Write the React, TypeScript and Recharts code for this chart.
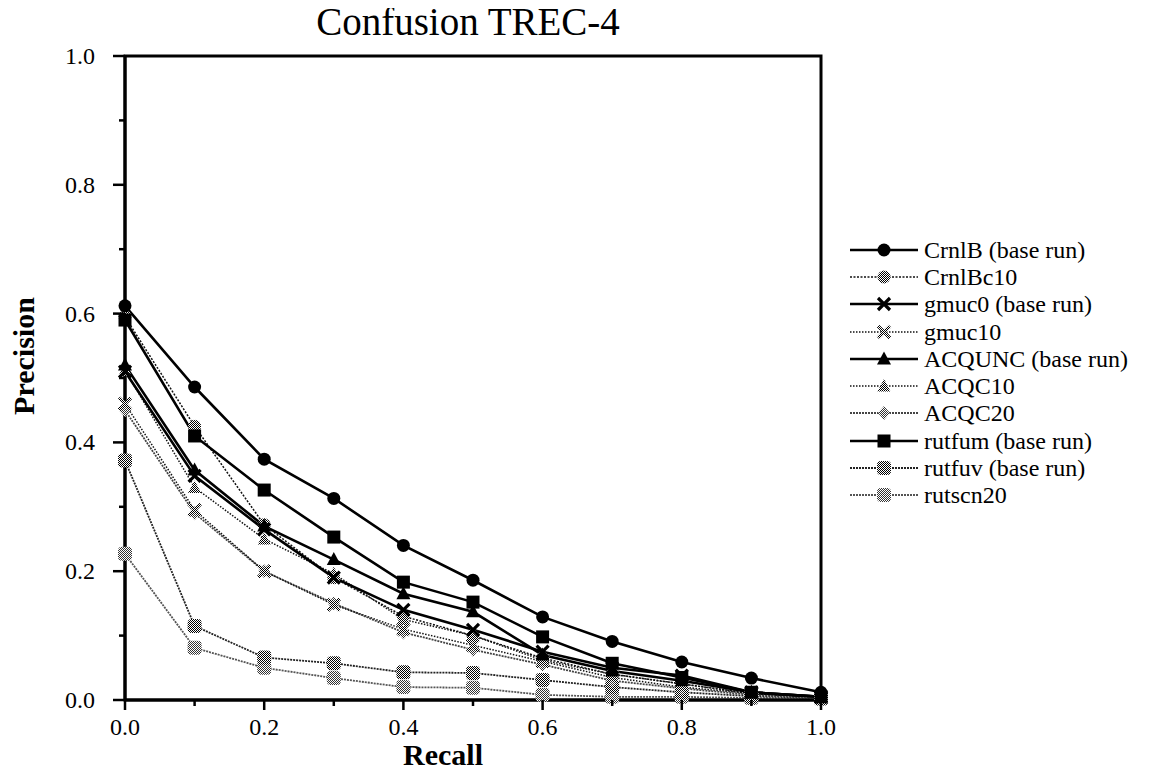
import React from "react";
import { LineChart, Line, XAxis, YAxis, ReferenceArea } from "recharts";

// recall levels (x) and interpolated precision per run (y)
const recall = [0.0, 0.1, 0.2, 0.3, 0.4, 0.5, 0.6, 0.7, 0.8, 0.9, 1.0];

const crnlB = [0.612, 0.486, 0.374, 0.313, 0.24, 0.186, 0.129, 0.091, 0.059, 0.034, 0.012];
const crnlBc10 = [0.595, 0.425, 0.272, 0.19, 0.13, 0.1, 0.065, 0.04, 0.025, 0.01, 0.005];
const gmuc0 = [0.51, 0.348, 0.265, 0.19, 0.14, 0.109, 0.075, 0.05, 0.038, 0.012, 0.005];
const gmuc10 = [0.46, 0.295, 0.2, 0.148, 0.11, 0.085, 0.06, 0.035, 0.02, 0.01, 0.004];
const acqunc = [0.52, 0.357, 0.27, 0.218, 0.165, 0.137, 0.07, 0.045, 0.03, 0.012, 0.005];
const acqc10 = [0.512, 0.33, 0.25, 0.196, 0.125, 0.1, 0.062, 0.04, 0.025, 0.01, 0.005];
const acqc20 = [0.45, 0.29, 0.2, 0.15, 0.105, 0.078, 0.055, 0.03, 0.018, 0.008, 0.003];
const rutfum = [0.59, 0.41, 0.326, 0.253, 0.183, 0.152, 0.098, 0.057, 0.035, 0.012, 0.005];
const rutfuv = [0.372, 0.115, 0.066, 0.057, 0.043, 0.042, 0.031, 0.02, 0.012, 0.006, 0.003];
const rutscn20 = [0.227, 0.081, 0.05, 0.034, 0.02, 0.019, 0.008, 0.005, 0.005, 0.003, 0.002];

const xTicks = [0, 0.1, 0.2, 0.3, 0.4, 0.5, 0.6, 0.7, 0.8, 0.9, 1.0];
const yTicks = [0, 0.1, 0.2, 0.3, 0.4, 0.5, 0.6, 0.7, 0.8, 0.9, 1.0];

const FONT = "'Liberation Serif', 'DejaVu Serif', serif";

type MarkerKind =
  | "circle"
  | "square"
  | "triangle"
  | "x"
  | "xChk"
  | "circleChk"
  | "triChk"
  | "diaChk"
  | "blobDark"
  | "blobLight";

interface Run {
  key: string;
  name: string;
  values: number[];
  stroke: string;
  width: number;
  dash?: string;
  marker: MarkerKind;
}

const runs: Run[] = [
  { key: "crnlB", name: "CrnlB (base run)", values: crnlB, stroke: "#000", width: 2.6, marker: "circle" },
  { key: "crnlBc10", name: "CrnlBc10", values: crnlBc10, stroke: "#111", width: 1.5, dash: "2 1.5", marker: "circleChk" },
  { key: "gmuc0", name: "gmuc0 (base run)", values: gmuc0, stroke: "#000", width: 2.6, marker: "x" },
  { key: "gmuc10", name: "gmuc10", values: gmuc10, stroke: "#111", width: 1.5, dash: "1.5 1.5", marker: "xChk" },
  { key: "acqunc", name: "ACQUNC (base run)", values: acqunc, stroke: "#000", width: 2.6, marker: "triangle" },
  { key: "acqc10", name: "ACQC10", values: acqc10, stroke: "#111", width: 1.5, dash: "1.5 1.5", marker: "triChk" },
  { key: "acqc20", name: "ACQC20", values: acqc20, stroke: "#444", width: 1.8, dash: "2 1", marker: "diaChk" },
  { key: "rutfum", name: "rutfum (base run)", values: rutfum, stroke: "#000", width: 2.6, marker: "square" },
  { key: "rutfuv", name: "rutfuv (base run)", values: rutfuv, stroke: "#222", width: 1.8, dash: "2 1", marker: "blobDark" },
  { key: "rutscn20", name: "rutscn20", values: rutscn20, stroke: "#555", width: 1.8, dash: "2 1", marker: "blobLight" },
];

// base runs drawn last so they sit on top
const drawOrder = ["rutscn20", "rutfuv", "acqc20", "acqc10", "gmuc10", "crnlBc10", "acqunc", "gmuc0", "rutfum", "crnlB"];

const data = recall.map((r, i) => {
  const row: Record<string, number> = { recall: r };
  runs.forEach((s) => {
    row[s.key] = s.values[i];
  });
  return row;
});

function Patterns() {
  return (
    <svg width={0} height={0} style={{ position: "absolute" }}>
      <defs>
        <pattern id="chk" width="2" height="2" patternUnits="userSpaceOnUse">
          <rect width="2" height="2" fill="#fff" />
          <rect x="0" y="0" width="1" height="1" fill="#000" />
          <rect x="1" y="1" width="1" height="1" fill="#000" />
        </pattern>
        <pattern id="chkLight" width="2" height="2" patternUnits="userSpaceOnUse">
          <rect width="2" height="2" fill="#fff" />
          <rect x="0" y="0" width="1" height="1" fill="#333" />
          <rect x="1" y="1" width="1" height="1" fill="#333" />
        </pattern>
      </defs>
    </svg>
  );
}

function Marker({ kind, cx, cy }: { kind: MarkerKind; cx: number; cy: number }) {
  switch (kind) {
    case "circle":
      return <circle cx={cx} cy={cy} r={6.5} fill="#000" />;
    case "square":
      return <rect x={cx - 6.5} y={cy - 6.5} width={13} height={13} fill="#000" />;
    case "triangle":
      return <polygon points={`${cx},${cy - 7.5} ${cx - 7},${cy + 5.5} ${cx + 7},${cy + 5.5}`} fill="#000" />;
    case "x":
      return (
        <path
          d={`M${cx - 6},${cy - 6}L${cx + 6},${cy + 6}M${cx - 6},${cy + 6}L${cx + 6},${cy - 6}`}
          stroke="#000"
          strokeWidth={3.2}
        />
      );
    case "xChk":
      return (
        <path
          d={`M${cx - 6},${cy - 6}L${cx + 6},${cy + 6}M${cx - 6},${cy + 6}L${cx + 6},${cy - 6}`}
          stroke="url(#chk)"
          strokeWidth={3.5}
        />
      );
    case "circleChk":
      return <circle cx={cx} cy={cy} r={6.5} fill="url(#chk)" />;
    case "triChk":
      return <polygon points={`${cx},${cy - 7} ${cx - 6.5},${cy + 5.5} ${cx + 6.5},${cy + 5.5}`} fill="url(#chk)" />;
    case "diaChk":
      return <polygon points={`${cx},${cy - 7} ${cx + 6},${cy} ${cx},${cy + 7} ${cx - 6},${cy}`} fill="url(#chkLight)" />;
    case "blobDark":
      return <rect x={cx - 7} y={cy - 7} width={14} height={14} rx={4} fill="url(#chk)" />;
    case "blobLight":
      return <rect x={cx - 7} y={cy - 7} width={14} height={14} rx={4} fill="url(#chkLight)" />;
  }
  return null;
}

function XTick(props: any) {
  const { x, y, payload } = props;
  const v = payload.value as number;
  const major = Math.round(v * 10) % 2 === 0;
  return (
    <g>
      <line x1={x} x2={x} y1={y} y2={y + (major ? 10 : 6)} stroke="#000" strokeWidth={2.5} />
      {major && (
        <text x={x} y={y + 35} textAnchor="middle" fontSize={24} fontFamily={FONT} fill="#000">
          {v.toFixed(1)}
        </text>
      )}
    </g>
  );
}

function YTick(props: any) {
  const { x, y, payload } = props;
  const v = payload.value as number;
  const major = Math.round(v * 10) % 2 === 0;
  return (
    <g>
      <line x1={x - (major ? 12 : 6)} x2={x} y1={y} y2={y} stroke="#000" strokeWidth={2.5} />
      {major && (
        <text x={x - 30} y={y + 8} textAnchor="end" fontSize={24} fontFamily={FONT} fill="#000">
          {v.toFixed(1)}
        </text>
      )}
    </g>
  );
}

function LegendBox() {
  return (
    <div style={{ position: "absolute", left: 842, top: 228 }}>
      {runs.map((s) => (
        <div key={s.key} style={{ display: "flex", alignItems: "center", height: 27.3 }}>
          <svg width={70} height={20} style={{ display: "block" }}>
            <line x1={0} x2={68} y1={10} y2={10} stroke={s.stroke} strokeWidth={s.width} strokeDasharray={s.dash} />
            <Marker kind={s.marker} cx={34} cy={10} />
          </svg>
          <span style={{ fontFamily: FONT, fontSize: 24, marginLeft: 4, whiteSpace: "nowrap", lineHeight: "24px" }}>
            {s.name}
          </span>
        </div>
      ))}
    </div>
  );
}

export default function App() {
  const ordered = drawOrder.map((k) => runs.find((r) => r.key === k) as Run);
  return (
    <div style={{ position: "relative", width: 1134, height: 765, background: "#fff" }}>
      <Patterns />
      <div
        style={{
          position: "absolute",
          left: -5,
          width: 930,
          top: -6,
          textAlign: "center",
          fontFamily: FONT,
          fontSize: 39,
          lineHeight: "39px",
        }}
      >
        Confusion TREC-4
      </div>
      <LineChart width={1134} height={765} data={data} margin={{ top: 48, right: 321, bottom: 13, left: 7 }}>
        <XAxis
          dataKey="recall"
          type="number"
          domain={[0, 1]}
          ticks={xTicks}
          height={60}
          tickSize={0}
          tickMargin={0}
          tickLine={false}
          tick={(p: any) => <XTick {...p} />}
          axisLine={{ stroke: "#000", strokeWidth: 3 }}
          interval={0}
        />
        <YAxis
          type="number"
          domain={[0, 1]}
          ticks={yTicks}
          width={110}
          tickSize={0}
          tickMargin={0}
          tickLine={false}
          tick={(p: any) => <YTick {...p} />}
          axisLine={{ stroke: "#000", strokeWidth: 3 }}
          interval={0}
        />
        <ReferenceArea x1={0} x2={1} y1={0} y2={1} fill="none" stroke="#000" strokeWidth={3} />
        {ordered.map((s) => (
          <Line
            key={s.key}
            dataKey={s.key}
            name={s.name}
            type="linear"
            stroke={s.stroke}
            strokeWidth={s.width}
            strokeDasharray={s.dash}
            isAnimationActive={false}
            dot={(p: any) => (
              <g key={`${s.key}-${p.index}`}>
                <Marker kind={s.marker} cx={p.cx} cy={p.cy} />
              </g>
            )}
            activeDot={false}
          />
        ))}
      </LineChart>
      <div
        style={{
          position: "absolute",
          left: 435,
          top: 747,
          transform: "translate(-50%, -50%)",
          fontFamily: FONT,
          fontWeight: "bold",
          fontSize: 30,
          lineHeight: "30px",
          whiteSpace: "nowrap",
        }}
      >
        Recall
      </div>
      <div
        style={{
          position: "absolute",
          left: 16,
          top: 348,
          transform: "translate(-50%, -50%) rotate(-90deg)",
          fontFamily: FONT,
          fontWeight: "bold",
          fontSize: 30,
          whiteSpace: "nowrap",
        }}
      >
        Precision
      </div>
      <LegendBox />
    </div>
  );
}
